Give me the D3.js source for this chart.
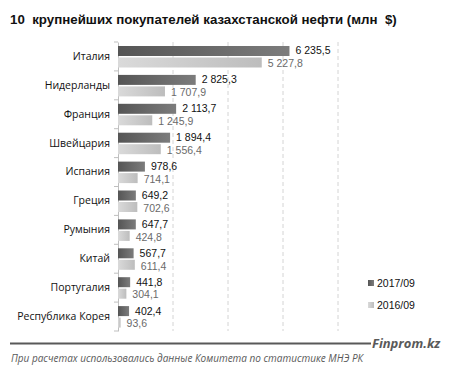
<!DOCTYPE html>
<html><head><meta charset="utf-8">
<script src="https://cdn.jsdelivr.net/npm/d3@7"></script>
<style>body{margin:0;background:#fff}svg{display:block}</style>
</head><body>
<script>
const categories = ["Италия","Нидерланды","Франция","Швейцария","Испания","Греция","Румыния","Китай","Португалия","Республика Корея"];
const values2017 = [6235.5,2825.3,2113.7,1894.4,978.6,649.2,647.7,567.7,441.8,402.4];
const values2016 = [5227.8,1707.9,1245.9,1556.4,714.1,702.6,424.8,611.4,304.1,93.6];
const seriesNames = ["2017/09","2016/09"];
const xTicks = [0,2000,4000,6000,8000];
const title = "10  крупнейших покупателей казахстанской нефти (млн  $)";
const source = "При расчетах использовались данные Комитета по статистике МНЭ РК";

const W=454,H=370;
const svg=d3.select("body").append("svg").attr("width",W).attr("height",H);
const defs=svg.append("defs");
const g1=defs.append("linearGradient").attr("id","gd").attr("x1","0").attr("x2","1").attr("y1","0").attr("y2","0");
g1.append("stop").attr("offset","0").attr("stop-color","#555555");
g1.append("stop").attr("offset","1").attr("stop-color","#7c7c7c");
const g2=defs.append("linearGradient").attr("id","gl").attr("x1","0").attr("x2","1").attr("y1","0").attr("y2","0");
g2.append("stop").attr("offset","0").attr("stop-color","#dadada");
g2.append("stop").attr("offset","1").attr("stop-color","#bdbdbd");

const fmt=v=>{const s=d3.format(",.1f")(v);return s.replace(/,/g," ").replace(".",",");};

const x=d3.scaleLinear().domain([0,8000]).range([118,338]);
const y=d3.scaleBand().domain(categories).range([42,331]);
const fs="'Open Sans','Liberation Sans',sans-serif";
const fv="'Liberation Sans',Arial,sans-serif";

svg.append("text").attr("x",10).attr("y",24).attr("font-family","'Liberation Sans',Arial,sans-serif")
  .attr("font-weight","bold").attr("font-size",13.3).attr("fill","#111").style("white-space","pre").text(title);

// grid
svg.append("g").selectAll("line").data(xTicks.slice(1)).join("line")
  .attr("x1",d=>x(d)).attr("x2",d=>x(d)).attr("y1",42).attr("y2",331)
  .attr("stroke","#d4d4d4").attr("stroke-dasharray","4,3");

// axis
const ax=svg.append("g").attr("transform","translate(118,0)")
  .call(d3.axisLeft(y).tickSize(0).tickPadding(8).tickFormat(d=>d));
ax.select(".domain").attr("stroke","#bfbfbf");
ax.selectAll("text").attr("font-family",fs).attr("font-size",10.5).attr("fill","#111");
// band boundary ticks
svg.append("g").selectAll("line").data(d3.range(categories.length+1)).join("line")
  .attr("x1",114).attr("x2",118)
  .attr("y1",i=>42+i*y.step()).attr("y2",i=>42+i*y.step()).attr("stroke","#bfbfbf");

const bh=10;
const rows=svg.append("g").selectAll("g").data(categories).join("g");
rows.append("rect").attr("x",x(0)).attr("y",d=>y(d)+4).attr("height",bh)
  .attr("width",(d,i)=>x(values2017[i])-x(0)).attr("fill","url(#gd)");
rows.append("rect").attr("x",x(0)).attr("y",d=>y(d)+15.5).attr("height",bh)
  .attr("width",(d,i)=>Math.max(1,x(values2016[i])-x(0))).attr("fill","url(#gl)");
rows.append("text").attr("x",(d,i)=>x(values2017[i])+6).attr("y",d=>y(d)+8.8)
  .attr("dy","0.35em").attr("font-family",fv).attr("font-size",10.5).attr("fill","#111")
  .text((d,i)=>fmt(values2017[i]));
rows.append("text").attr("x",(d,i)=>x(values2016[i])+6).attr("y",d=>y(d)+21.6)
  .attr("dy","0.35em").attr("font-family",fv).attr("font-size",10.5).attr("fill","#6a6a6a")
  .text((d,i)=>fmt(values2016[i]));

// legend
const lg=svg.append("g").selectAll("g").data(seriesNames).join("g")
  .attr("transform",(d,i)=>`translate(368,${283+i*22})`);
lg.append("rect").attr("x",0).attr("y",-3).attr("width",6).attr("height",6)
  .attr("fill",(d,i)=>i?"url(#gl)":"url(#gd)");
lg.append("text").attr("x",9).attr("y",0).attr("dy","0.35em").attr("font-family",fv)
  .attr("font-size",10.5).attr("fill","#111").text(d=>d);

// footer
svg.append("line").attr("x1",10).attr("x2",371).attr("y1",343.5).attr("y2",343.5)
  .attr("stroke","#595959").attr("stroke-width",2);
svg.append("text").attr("x",372).attr("y",348).attr("font-family",fs).attr("font-weight","bold")
  .attr("font-style","italic").attr("font-size",13).attr("fill","#595959").text("Finprom.kz");
svg.append("text").attr("x",11).attr("y",362).attr("font-family",fs)
  .attr("font-style","italic").attr("font-size",10).attr("fill","#595959").text(source);
</script>
</body></html>
